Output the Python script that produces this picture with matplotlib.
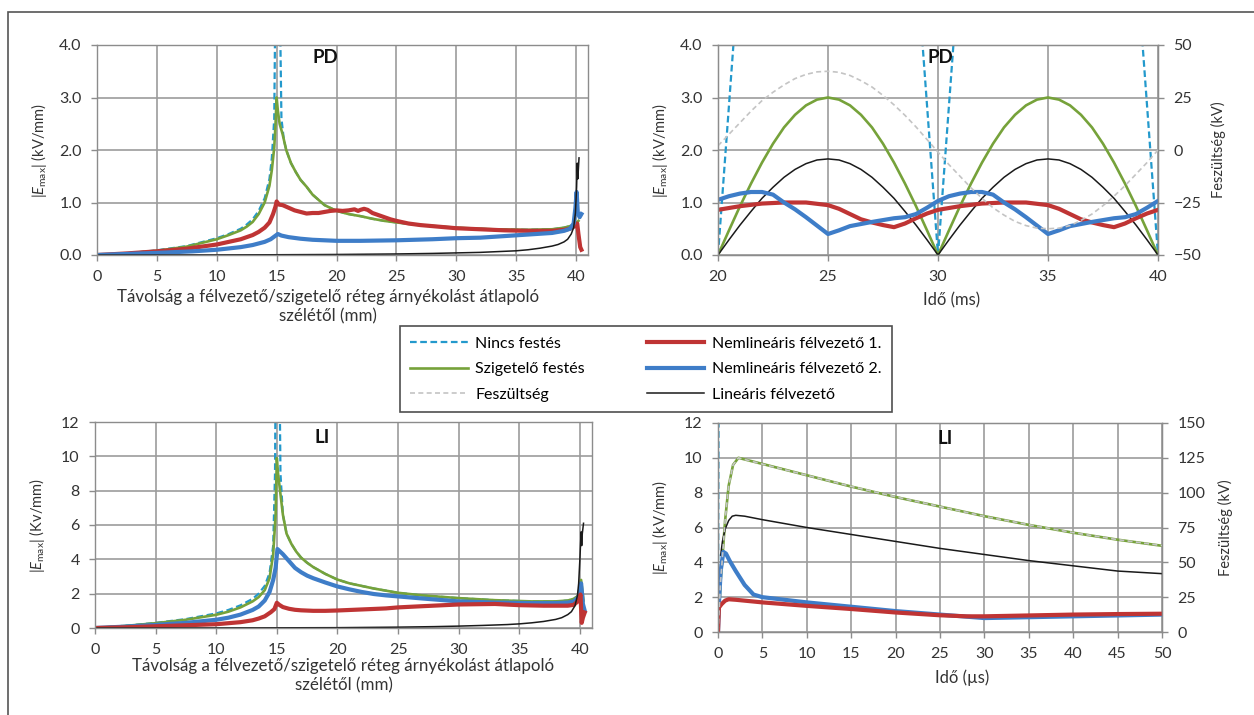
import matplotlib
matplotlib.use('Agg')
import matplotlib.pyplot as plt
from matplotlib.patches import Rectangle
from matplotlib.lines import Line2D

plt.rcParams['font.family'] = ['Lato', 'DejaVu Sans']
plt.rcParams['mathtext.fontset'] = 'custom'
plt.rcParams['mathtext.rm'] = 'Lato'
plt.rcParams['mathtext.it'] = 'Lato:italic'

# ---------------- PD, distance (top left) ----------------
pd_cyan_x = [0, 2.5, 5, 7.5, 10, 11, 12, 12.5, 13, 13.5, 14, 14.4, 14.6, 14.8, 14.9, 15.05, 15.2, 15.4,
             15.6, 15.8, 16.2, 16.6, 17, 17.5, 18, 19, 20, 21, 22, 23, 24, 25, 27, 30, 33, 36, 38, 39, 39.5, 40, 40.2]
pd_cyan_y = [0, 0.03, 0.09, 0.17, 0.32, 0.4, 0.5, 0.58, 0.68, 0.84, 1.08, 1.45, 1.85, 2.6, 5.0, 8.0, 6.0, 2.6,
             2.2, 2.0, 1.75, 1.58, 1.43, 1.3, 1.15, 0.95, 0.84, 0.78, 0.74, 0.69, 0.65, 0.62, 0.57, 0.52, 0.49, 0.48, 0.49, 0.52, 0.55, 0.6, 0.65]
pd_green_x = [0, 2.5, 5, 7.5, 10, 11, 12, 12.5, 13, 13.5, 14, 14.4, 14.6, 14.8, 14.9, 15.0, 15.1, 15.25,
              15.5, 15.8, 16.2, 16.6, 17, 17.5, 18, 19, 20, 21, 22, 23, 24, 25, 27, 30, 33, 36, 38, 39, 39.5, 40, 40.2]
pd_green_y = [0, 0.03, 0.08, 0.16, 0.3, 0.38, 0.47, 0.54, 0.63, 0.78, 1.0, 1.32, 1.62, 2.05, 2.45, 3.0, 2.75, 2.5,
              2.3, 2.0, 1.75, 1.58, 1.43, 1.3, 1.15, 0.95, 0.84, 0.78, 0.74, 0.69, 0.65, 0.62, 0.57, 0.52, 0.49, 0.48, 0.49, 0.52, 0.55, 0.6, 0.65]
pd_red_x = [0, 2.5, 5, 7.5, 10, 11, 12, 13, 13.5, 14, 14.4, 14.7, 14.9, 15.0, 15.2, 15.5, 16, 16.5, 17, 17.5,
            18, 18.5, 19, 19.5, 20, 20.5, 21, 21.5, 21.8, 22.0, 22.3, 22.6, 23, 23.5, 24, 24.5, 25, 26, 27, 28,
            30, 32, 34, 36, 38, 39, 39.5, 39.9, 40.1, 40.2, 40.35, 40.45]
pd_red_y = [0, 0.03, 0.07, 0.12, 0.2, 0.25, 0.3, 0.38, 0.44, 0.52, 0.62, 0.78, 0.92, 1.02, 0.96, 0.95, 0.9, 0.85, 0.82, 0.79,
            0.8, 0.8, 0.82, 0.84, 0.85, 0.84, 0.85, 0.87, 0.84, 0.86, 0.88, 0.86, 0.8, 0.76, 0.72, 0.68, 0.65, 0.6, 0.57, 0.55,
            0.51, 0.49, 0.47, 0.46, 0.46, 0.48, 0.5, 0.55, 0.6, 0.4, 0.15, 0.1]
pd_blue_x = [0, 5, 8, 10, 12, 13, 14, 14.5, 14.8, 15.1, 15.4, 16, 17, 18, 19, 20, 22, 25, 28, 30, 32, 34, 36, 38,
             39, 39.5, 39.8, 39.95, 40.05, 40.15, 40.3, 40.45]
pd_blue_y = [0, 0.04, 0.07, 0.1, 0.15, 0.19, 0.25, 0.3, 0.35, 0.4, 0.37, 0.34, 0.31, 0.29, 0.28, 0.27, 0.27, 0.28, 0.3, 0.32,
             0.33, 0.36, 0.39, 0.42, 0.46, 0.5, 0.6, 0.9, 1.2, 0.8, 0.72, 0.78]
pd_black_x = [0, 10, 20, 25, 28, 30, 32, 34, 35, 36, 37, 38, 38.5, 39, 39.3, 39.6, 39.8, 39.95, 40.05, 40.1, 40.15, 40.2, 40.25]
pd_black_y = [0, 0, 0.01, 0.02, 0.03, 0.04, 0.05, 0.07, 0.08, 0.1, 0.13, 0.17, 0.2, 0.25, 0.3, 0.4, 0.52, 0.8, 1.3, 1.75, 1.45, 1.65, 1.85]

# ---------------- PD, time (top right) ----------------
pdt_cyan_x = [20, 20.7, 21.5, 25, 28.5, 29.3, 30, 30.7, 31.5, 35, 38.5, 39.3, 40]
pdt_cyan_y = [0, 4, 8, 18, 8, 4, 0, 4, 8, 18, 8, 4, 0]
pdt_x = [20, 20.5, 21, 21.5, 22, 22.5, 23, 23.5, 24, 24.5, 25, 25.5, 26, 26.5, 27, 27.5, 28, 28.5, 29, 29.5,
         30, 30.5, 31, 31.5, 32, 32.5, 33, 33.5, 34, 34.5, 35, 35.5, 36, 36.5, 37, 37.5, 38, 38.5, 39, 39.5, 40]
pdt_green = [0, 0.47, 0.93, 1.36, 1.76, 2.12, 2.43, 2.67, 2.85, 2.96, 3.0, 2.96, 2.85, 2.67, 2.43, 2.12, 1.76, 1.36, 0.93, 0.47,
             0, 0.47, 0.93, 1.36, 1.76, 2.12, 2.43, 2.67, 2.85, 2.96, 3.0, 2.96, 2.85, 2.67, 2.43, 2.12, 1.76, 1.36, 0.93, 0.47, 0]
pdt_black = [0, 0.29, 0.57, 0.83, 1.08, 1.29, 1.48, 1.63, 1.74, 1.81, 1.83, 1.81, 1.74, 1.63, 1.48, 1.29, 1.08, 0.83, 0.57, 0.29,
             0, 0.29, 0.57, 0.83, 1.08, 1.29, 1.48, 1.63, 1.74, 1.81, 1.83, 1.81, 1.74, 1.63, 1.48, 1.29, 1.08, 0.83, 0.57, 0.29, 0]
pdt_volt = [2, 7.5, 13, 18.5, 23.5, 27.5, 31, 34, 36, 37.2, 37.5, 37, 35.5, 33, 30, 26, 21.5, 16.5, 11, 5,
            -1, -7, -12.5, -18, -23, -27.5, -31, -34, -36, -37.2, -37.5, -37.2, -36, -33.5, -30.5, -26.5, -22, -17, -11.5, -6, 0]
pdt_red_x = [20, 21, 22, 23, 24, 25, 25.5, 26, 26.5, 27, 27.5, 28, 28.5, 29, 29.5, 30,
             31, 32, 33, 34, 35, 35.5, 36, 36.5, 37, 37.5, 38, 38.5, 39, 39.5, 40]
pdt_red_y = [0.86, 0.93, 0.98, 1.0, 1.0, 0.95, 0.88, 0.78, 0.68, 0.62, 0.57, 0.53, 0.6, 0.7, 0.79, 0.86,
             0.93, 0.98, 1.0, 1.0, 0.95, 0.88, 0.78, 0.68, 0.62, 0.57, 0.53, 0.6, 0.7, 0.79, 0.86]
pdt_blue_x = [20, 20.5, 21, 21.5, 22, 22.5, 23, 23.5, 24, 24.5, 25, 25.5, 26, 27, 28, 28.5, 29, 29.5, 30,
              30.5, 31, 31.5, 32, 32.5, 33, 33.5, 34, 34.5, 35, 35.5, 36, 37, 38, 38.5, 39, 39.5, 40]
pdt_blue_y = [1.05, 1.12, 1.17, 1.2, 1.2, 1.15, 1.0, 0.87, 0.72, 0.56, 0.4, 0.47, 0.55, 0.63, 0.7, 0.72, 0.78, 0.9, 1.03,
              1.12, 1.17, 1.2, 1.2, 1.15, 1.0, 0.87, 0.72, 0.56, 0.4, 0.47, 0.55, 0.63, 0.7, 0.72, 0.78, 0.9, 1.03]

# ---------------- LI, distance (bottom left) ----------------
li_cyan_x = [0, 2.5, 5, 7.5, 10, 11, 12, 13, 13.5, 14, 14.4, 14.7, 14.85, 14.95, 15.15, 15.3, 15.5, 15.8,
             16.2, 16.6, 17, 17.5, 18, 19, 20, 21, 22, 23, 25, 27, 30, 33, 36, 38, 39, 39.5, 39.9]
li_cyan_y = [0, 0.13, 0.3, 0.52, 0.85, 1.05, 1.32, 1.7, 2.0, 2.45, 3.2, 4.8, 9, 20, 20, 9, 6.6, 5.5,
             4.9, 4.45, 4.1, 3.8, 3.55, 3.15, 2.82, 2.6, 2.45, 2.3, 2.05, 1.9, 1.74, 1.62, 1.55, 1.55, 1.6, 1.7, 1.9]
li_green_x = [0, 2.5, 5, 7.5, 10, 11, 12, 13, 13.5, 14, 14.4, 14.7, 14.9, 15.0, 15.1, 15.3, 15.5, 15.8,
              16.2, 16.6, 17, 17.5, 18, 19, 20, 21, 22, 23, 25, 27, 30, 33, 36, 38, 39, 39.5, 39.9, 40.1, 40.3]
li_green_y = [0, 0.12, 0.28, 0.48, 0.77, 0.95, 1.2, 1.55, 1.8, 2.2, 2.9, 4.3, 6.6, 9.9, 9.0, 7.8, 6.6, 5.5,
              4.9, 4.45, 4.1, 3.8, 3.55, 3.15, 2.82, 2.6, 2.45, 2.3, 2.05, 1.9, 1.74, 1.62, 1.55, 1.55, 1.6, 1.7, 1.9, 2.8, 1.6]
li_blue_x = [0, 2.5, 5, 7.5, 10, 11, 12, 13, 13.5, 14, 14.4, 14.7, 14.9, 15.05, 15.2, 15.5, 16, 16.5, 17, 17.5,
             18, 19, 20, 21, 22, 23, 24, 25, 27, 30, 33, 36, 38, 39, 39.5, 39.9, 40.1, 40.25, 40.4]
li_blue_y = [0, 0.08, 0.18, 0.3, 0.48, 0.6, 0.78, 1.05, 1.25, 1.6, 2.1, 2.8, 3.5, 4.6, 4.5, 4.3, 3.9, 3.5, 3.25, 3.05,
             2.9, 2.65, 2.42, 2.25, 2.1, 1.98, 1.9, 1.84, 1.72, 1.55, 1.48, 1.45, 1.45, 1.48, 1.55, 1.8, 2.6, 1.4, 1.0]
li_red_x = [0, 2.5, 5, 7.5, 10, 11, 12, 13, 13.5, 14, 14.5, 14.8, 15.0, 15.2, 15.5, 16, 16.5, 17, 18, 19, 20,
            22, 24, 25, 27, 30, 33, 35, 37, 38, 39, 39.5, 39.9, 40.05, 40.15, 40.25, 40.4]
li_red_y = [0, 0.04, 0.1, 0.16, 0.22, 0.28, 0.34, 0.45, 0.55, 0.68, 0.92, 1.1, 1.47, 1.35, 1.22, 1.12, 1.06, 1.03, 1.0, 1.0, 1.02,
            1.08, 1.14, 1.2, 1.27, 1.37, 1.4, 1.33, 1.3, 1.3, 1.3, 1.35, 1.6, 1.95, 0.3, 0.6, 0.9]
li_black_x = [0, 10, 20, 25, 28, 30, 32, 34, 35, 36, 37, 38, 38.5, 39, 39.3, 39.6, 39.8, 39.9, 40.0, 40.1, 40.15, 40.2, 40.3]
li_black_y = [0, 0, 0.02, 0.05, 0.08, 0.11, 0.15, 0.2, 0.24, 0.3, 0.38, 0.5, 0.6, 0.78, 0.95, 1.3, 1.9, 2.6, 4.0, 5.6, 4.8, 5.5, 6.1]

# ---------------- LI, time (bottom right) ----------------
lit_cyan_x = [0, 0.05, 0.1]
lit_cyan_y = [0, 10, 20]
lit_x = [0, 0.3, 0.5, 0.8, 1.2, 1.7, 2.3, 5, 10, 15, 20, 25, 30, 35, 40, 45, 50]
lit_green = [0, 3.0, 4.3, 6.4, 8.4, 9.6, 10.0, 9.65, 9.0, 8.35, 7.75, 7.2, 6.65, 6.15, 5.7, 5.3, 4.95]
lit_volt = [0, 37, 54, 80, 105, 120, 125, 120.5, 112.5, 104.5, 97, 90, 83, 77, 71.3, 66.3, 62]
lit_black_x = [0.3, 0.5, 0.8, 1.2, 1.6, 2.0, 3, 5, 10, 15, 20, 25, 30, 35, 40, 45, 50]
lit_black_y = [4.4, 5.2, 5.9, 6.4, 6.65, 6.7, 6.65, 6.45, 6.0, 5.6, 5.2, 4.8, 4.45, 4.1, 3.8, 3.5, 3.35]
lit_blue_x = [0, 0.1, 0.3, 0.6, 0.9, 1.3, 2, 3, 4, 5, 10, 15, 20, 25, 30, 35, 40, 45, 50]
lit_blue_y = [0, 1.6, 3.5, 4.6, 4.5, 4.1, 3.5, 2.7, 2.15, 2.0, 1.7, 1.45, 1.2, 1.0, 0.8, 0.85, 0.9, 0.95, 1.0]
lit_red_x = [0, 0.1, 0.4, 0.8, 1.2, 2, 5, 10, 15, 20, 25, 28, 30, 35, 40, 45, 50]
lit_red_y = [0, 1.4, 1.6, 1.8, 1.88, 1.85, 1.7, 1.5, 1.32, 1.12, 0.96, 0.9, 0.9, 0.95, 1.0, 1.03, 1.05]

labels = ['Nincs festés', 'Szigetelő festés', 'Feszültség',
          'Nemlineáris félvezető 1.', 'Nemlineáris félvezető 2.', 'Lineáris félvezető']

CYAN, GREEN, RED, BLUE, BLACK, GRAY = '#2399CC', '#76A23A', '#BF3434', '#3E7DC8', '#1A1A1A', '#C4C4C4'
GRID = '#9C9C9C'
TXT = '#333333'
st_cyan = dict(color=CYAN, lw=1.6, ls=(0, (3, 1.6)))
st_green = dict(color=GREEN, lw=1.9)
st_red = dict(color=RED, lw=3.0)
st_blue = dict(color=BLUE, lw=3.0)
st_black = dict(color=BLACK, lw=1.1)
st_gray = dict(color=GRAY, lw=1.2, ls=(0, (3, 2)))

W, H = 1254, 715
fig = plt.figure(figsize=(W / 100, H / 100), dpi=100)


def rect(l, t, r, b):
    return [l / W, 1 - b / H, (r - l) / W, (b - t) / H]


def style(ax):
    ax.grid(True, color=GRID, lw=1.2)
    ax.set_axisbelow(True)
    for s in ax.spines.values():
        s.set_color('#8C8C8C')
        s.set_linewidth(1.0)
    ax.tick_params(colors='#8C8C8C', labelcolor=TXT, labelsize=11.5, length=4, width=1, pad=7)


def right_axis(ax, lo, hi, step):
    ax2 = ax.twinx()
    ax2.set_ylim(lo, hi)
    ax2.set_yticks(range(lo, hi + 1, step))
    for s in ax2.spines.values():
        s.set_color('#8C8C8C')
    ax2.tick_params(colors='#8C8C8C', labelcolor=TXT, labelsize=11.5, length=4, width=1, pad=7)
    ax2.set_ylabel('Feszültség (kV)', fontsize=10.5, color=TXT)
    return ax2


ylab = r'|$E_{\mathrm{max}}$| (kV/mm)'
xlab = 'Távolság a félvezető/szigetelő réteg árnyékolást átlapoló\nszélétől (mm)'

# top left
ax1 = fig.add_axes(rect(97, 45, 588, 255))
style(ax1)
ax1.plot(pd_cyan_x, pd_cyan_y, **st_cyan)
ax1.plot(pd_green_x, pd_green_y, **st_green)
ax1.plot(pd_red_x, pd_red_y, **st_red)
ax1.plot(pd_blue_x, pd_blue_y, **st_blue)
ax1.plot(pd_black_x, pd_black_y, **st_black)
ax1.set_xlim(0, 41)
ax1.set_ylim(0, 4)
ax1.set_xticks(range(0, 41, 5))
ax1.set_yticks([0, 1, 2, 3, 4])
ax1.set_yticklabels(['0.0', '1.0', '2.0', '3.0', '4.0'])
ax1.set_ylabel(ylab, fontsize=10.5, color=TXT)
ax1.yaxis.set_label_coords(-0.098, 0.5)
ax1.set_xlabel(xlab, fontsize=12.2, color=TXT, linespacing=1.3)
ax1.xaxis.set_label_coords(0.47, -0.16)
ax1.text(0.465, 0.94, 'PD', transform=ax1.transAxes, ha='center', va='center', fontsize=13.5, fontweight='bold', color='#111')

# top right
ax2 = fig.add_axes(rect(718, 45, 1158, 255))
style(ax2)
ax2.plot(pdt_cyan_x, pdt_cyan_y, **st_cyan)
ax2.plot(pdt_x, pdt_green, **st_green)
ax2.plot(pdt_x, pdt_black, **st_black)
ax2.plot(pdt_red_x, pdt_red_y, **st_red)
ax2.plot(pdt_blue_x, pdt_blue_y, **st_blue)
ax2.set_xlim(20, 40)
ax2.set_ylim(0, 4)
ax2.set_xticks(range(20, 41, 5))
ax2.set_yticks([0, 1, 2, 3, 4])
ax2.set_yticklabels(['0.0', '1.0', '2.0', '3.0', '4.0'])
ax2.set_ylabel(ylab, fontsize=10.5, color=TXT)
ax2.yaxis.set_label_coords(-0.109, 0.5)
ax2.set_xlabel('Idő (ms)', fontsize=12, color=TXT)
ax2.xaxis.set_label_coords(0.53, -0.18)
ax2.text(0.505, 0.94, 'PD', transform=ax2.transAxes, ha='center', va='center', fontsize=13.5, fontweight='bold', color='#111')
ax2r = right_axis(ax2, -50, 50, 25)
ax2r.plot(pdt_x, pdt_volt, **st_gray)
ax2r.yaxis.set_label_coords(1.12, 0.5)

# bottom left
ax3 = fig.add_axes(rect(95, 422, 592, 628))
style(ax3)
ax3.plot(li_cyan_x, li_cyan_y, **st_cyan)
ax3.plot(li_green_x, li_green_y, **st_green)
ax3.plot(li_blue_x, li_blue_y, **st_blue)
ax3.plot(li_red_x, li_red_y, **st_red)
ax3.plot(li_black_x, li_black_y, **st_black)
ax3.set_xlim(0, 41)
ax3.set_ylim(0, 12)
ax3.set_xticks(range(0, 41, 5))
ax3.set_yticks(range(0, 13, 2))
ax3.set_ylabel(r'|$E_{\mathrm{max}}$| (Kv/mm)', fontsize=10.5, color=TXT)
ax3.yaxis.set_label_coords(-0.097, 0.5)
ax3.set_xlabel(xlab, fontsize=12.2, color=TXT, linespacing=1.3)
ax3.xaxis.set_label_coords(0.5, -0.145)
ax3.text(0.457, 0.926, 'LI', transform=ax3.transAxes, ha='center', va='center', fontsize=13.5, fontweight='bold', color='#111')

# bottom right
ax4 = fig.add_axes(rect(718, 423, 1162, 632))
style(ax4)
ax4.plot(lit_cyan_x, lit_cyan_y, **st_cyan)
ax4.plot(lit_x, lit_green, **st_green)
ax4.plot(lit_black_x, lit_black_y, **st_black)
ax4.plot(lit_blue_x, lit_blue_y, **st_blue)
ax4.plot(lit_red_x, lit_red_y, **st_red)
ax4.set_xlim(0, 50)
ax4.set_ylim(0, 12)
ax4.set_xticks(range(0, 51, 5))
ax4.set_yticks(range(0, 13, 2))
ax4.set_ylabel(ylab, fontsize=10.5, color=TXT)
ax4.yaxis.set_label_coords(-0.108, 0.5)
ax4.set_xlabel('Idő (µs)', fontsize=12, color=TXT)
ax4.xaxis.set_label_coords(0.55, -0.18)
ax4.text(0.511, 0.926, 'LI', transform=ax4.transAxes, ha='center', va='center', fontsize=13.5, fontweight='bold', color='#111')
ax4r = right_axis(ax4, 0, 150, 25)
ax4r.plot(lit_x, lit_volt, **st_gray)
ax4r.yaxis.set_label_coords(1.126, 0.5)

# legend
handles = [Line2D([], [], **st_cyan), Line2D([], [], **st_green), Line2D([], [], **st_gray),
           Line2D([], [], **st_red), Line2D([], [], **st_blue), Line2D([], [], **st_black)]
leg = fig.legend(handles, labels, ncol=2, loc='upper left', bbox_to_anchor=(392 / W, 1 - 318 / H),
                 frameon=True, fancybox=False, edgecolor='#222', fontsize=11.5, handlelength=3.6,
                 handletextpad=0.45, columnspacing=3.9, labelspacing=0.72, borderpad=0.65)
leg.get_frame().set_linewidth(1.2)

# outer frame
fig.patches.append(Rectangle((8 / W, -0.1), 1.2, 1 - 12 / H + 0.1, transform=fig.transFigure,
                             fill=False, edgecolor='#555555', lw=1.2))

fig.savefig('out.png', dpi=100)
